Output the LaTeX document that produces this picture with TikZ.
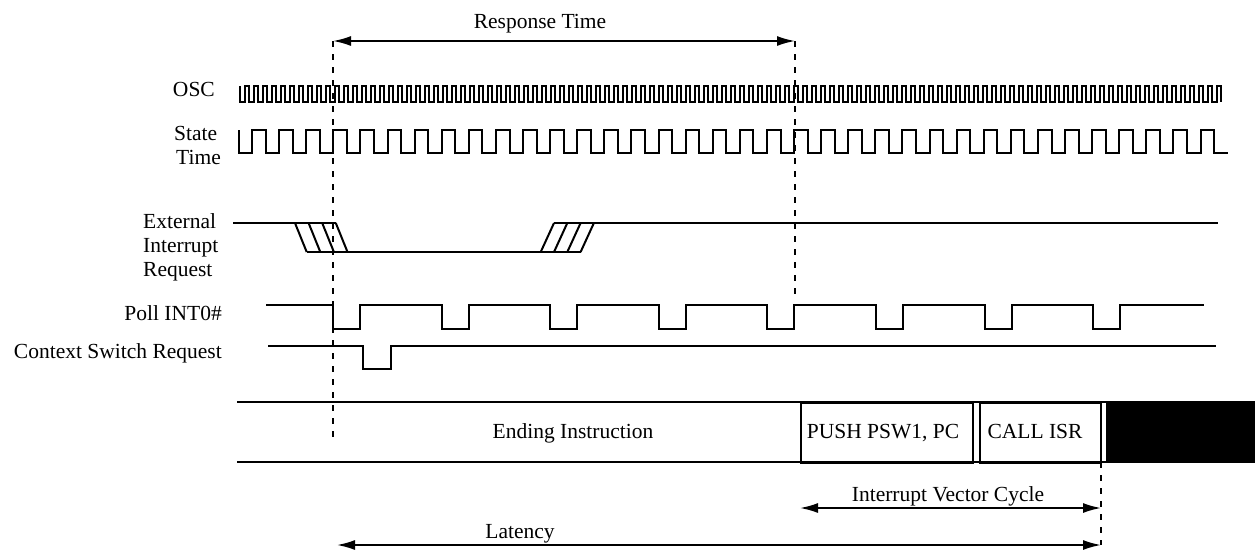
\documentclass[tikz,border=0pt]{standalone}
\usepackage{fontspec}
\setmainfont{Liberation Serif}
\usetikzlibrary{arrows.meta}
\begin{document}
\begin{tikzpicture}[x=1pt,y=-1pt,
  sig/.style={line width=2pt, line join=miter},
  guide/.style={line width=1.8pt, dash pattern=on 6pt off 7pt},
  dim/.style={line width=1.8pt, {Latex[length=18pt,width=10pt]}-{Latex[length=18pt,width=10pt]}},
  lbl/.style={font=\fontsize{21.5}{24}\selectfont, inner sep=0pt},
]
\useasboundingbox (0,0) rectangle (1255,550);

% labels
\node[lbl, anchor=base east] (osc) at (215,96) {OSC};
\node[lbl, anchor=base west] (state) at (174,140) {State};
\node[lbl, anchor=base west] (time) at (176,164) {Time};
\node[lbl, anchor=base west] (ext1) at (143,228) {External};
\node[lbl, anchor=base west] (ext2) at (143,252) {Interrupt};
\node[lbl, anchor=base west] (ext3) at (143,276) {Request};
\node[lbl, anchor=base east] (poll) at (222,320) {Poll INT0\#};
\node[lbl, anchor=base east] (ctx) at (222,358) {Context Switch Request};

% OSC
\draw[sig] (240,86) -- (240,102) \foreach \k in {1,...,109} { -- ++(4.5,0) -- ++(0,-16) -- ++(4.5,0) -- ++(0,16) };

% State time
\draw[sig] (238.5,130) -- (238.5,153) \foreach \k in {1,...,36} { -- ++(13.55,0) -- ++(0,-23) -- ++(13.55,0) -- ++(0,23) } -- ++(14,0);

% External interrupt request
\draw[sig] (233,223) -- (336,223);
\foreach \i in {0,...,3} \draw[sig] ({295+13.6*\i},223) -- ({306.7+13.6*\i},252);
\draw[sig] (306.7,252) -- (580.7,252);
\foreach \i in {0,...,3} \draw[sig] ({540.7+13.3*\i},252) -- ({554+13.3*\i},223);
\draw[sig] (554,223) -- (1218,223);

% Poll INT0#
\draw[sig] (266,305) \foreach \j in {0,...,7} { -- ({333+108.6*\j},305) -- ++(0,24) -- ++(27,0) -- ++(0,-24) } -- (1204,305);

% Context switch request
\draw[sig] (268,346) -- (362.7,346) -- (362.7,369) -- (390.7,369) -- (390.7,346) -- (1216,346);

% instruction bus
\fill (1106,402) rectangle (1255,462);
\draw[sig] (237,402) -- (1255,402);
\draw[sig] (237,462) -- (1255,462);
\node[sig, draw, minimum width=172pt, minimum height=60pt, anchor=north west, inner sep=0pt] (push) at (800,402) {};
\node[sig, draw, minimum width=120.5pt, minimum height=60pt, anchor=north west, inner sep=0pt] (call) at (979,402) {};
\node[lbl, anchor=base] (pusht) at (883,438) {PUSH PSW1, PC};
\node[lbl, anchor=base] (callt) at (1035,438) {CALL ISR};
\node[lbl, anchor=base] (endt) at (573,438) {Ending Instruction};

% dashed guides
\coordinate (d1t) at (333,41);
\coordinate (d1b) at (333,443);
\coordinate (d2t) at (795,41);
\coordinate (d2b) at (795,300);
\coordinate (d3t) at (1101,462);
\coordinate (d3b) at (1101,545);
\coordinate (ivl) at (800,508);
\coordinate (ivr) at (1101,508);
\coordinate (latl) at (337,545);
\draw[guide] (d1t) -- (d1b);
\draw[guide] (d2t) -- (d2b);
\draw[guide] (d3t) -- (d3b);

% dimension arrows
\draw[dim] (d1t) -- (d2t);
\draw[dim] (ivl) -- (ivr);
\draw[dim] (latl) -- (d3b);
\node[lbl, anchor=base] (resp) at (540,28) {Response Time};
\node[lbl, anchor=base] (ivc) at (948,501) {Interrupt Vector Cycle};
\node[lbl, anchor=base] (lat) at (520,538) {Latency};
\end{tikzpicture}
\end{document}
